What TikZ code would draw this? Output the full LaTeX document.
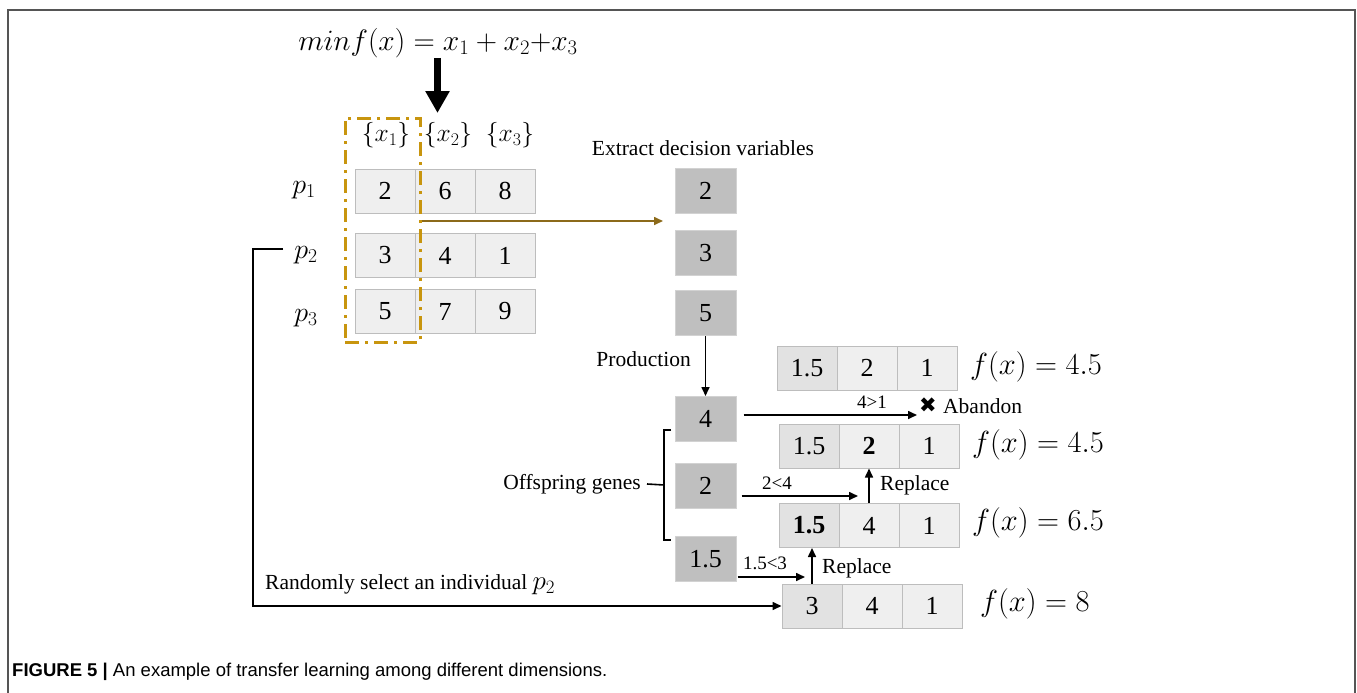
\RequirePackage{fix-cm}
\documentclass[tikz,border=0pt]{standalone}
\usepackage{fontspec}
\setmainfont{Liberation Serif}
\newfontfamily\capfont{Liberation Sans}
\newfontfamily\symfont{DejaVu Sans}
\usetikzlibrary{arrows.meta,calc}
\definecolor{cellfill}{HTML}{EFEFEF}
\definecolor{cellfillA}{HTML}{E2E2E2}
\definecolor{cellline}{HTML}{BDBDBD}
\definecolor{gfill}{HTML}{BFBFBF}
\definecolor{gline}{HTML}{D2D2D2}
\definecolor{gold}{HTML}{C8950E}
\definecolor{olive}{HTML}{8C6A1A}
\definecolor{frame}{HTML}{555555}
\begin{document}
\begin{tikzpicture}[x=1pt,y=-1pt,
  cell/.style={draw=cellline,line width=1pt,fill=cellfill,minimum width=60pt,minimum height=44pt,inner sep=0pt,font=\fontsize{26}{30}\selectfont},
  cellA/.style={cell,fill=cellfillA},
  gbox/.style={draw=gline,line width=1pt,fill=gfill,minimum width=61pt,minimum height=45pt,inner sep=0pt,font=\fontsize{26}{30}\selectfont},
  lbl/.style={inner sep=0pt,font=\fontsize{21.5}{25}\selectfont},
  smalllbl/.style={inner sep=0pt,font=\fontsize{19}{22}\selectfont},
  mathlbl/.style={inner sep=0pt,font=\fontsize{30.5}{34}\selectfont},
  arr/.style={line width=1.6pt,-{Triangle[length=9pt,width=8pt]}},
  plain/.style={line width=1.6pt},
]
\useasboundingbox (0,0) rectangle (1357,693);
% frame
\draw[frame,line width=1.5pt] (8,693) -- (8,10) -- (1355,10) -- (1355,693);

% formula and big arrow
\node[mathlbl,font=\fontsize{29.5}{34}\selectfont] (form) at (438,43) {$minf(x)=x_1+x_2{+}x_3$};
\coordinate (bigtop) at (437.5,58);
\coordinate (bigtip) at (437.5,113);
\draw[line width=7pt,-{Triangle[length=22pt,width=23pt]}] (bigtop) -- (bigtip);

% headers
\node[mathlbl,font=\fontsize{25.5}{30}\selectfont] (h1) at (386,135) {$\{x_1\}$};
\node[mathlbl,font=\fontsize{25.5}{30}\selectfont] (h2) at (448,135) {$\{x_2\}$};
\node[mathlbl,font=\fontsize{25.5}{30}\selectfont] (h3) at (510,135) {$\{x_3\}$};

% row labels
\node[mathlbl,font=\fontsize{28}{32}\selectfont] (p1) at (304,190) {$p_1$};
\node[mathlbl,font=\fontsize{28}{32}\selectfont] (p2) at (306,255) {$p_2$};
\node[mathlbl,font=\fontsize{28}{32}\selectfont] (p3) at (306,318) {$p_3$};

% population matrix
\node[cell] (a11) at (385,191) {2};
\node[cell] (a12) at (445,191) {6};
\node[cell] (a13) at (505,191) {8};
\node[cell] (a21) at (385,255.5) {3};
\node[cell] (a22) at (445,255.5) {4};
\node[cell] (a23) at (505,255.5) {1};
\node[cell] (a31) at (385,311.5) {5};
\node[cell] (a32) at (445,311.5) {7};
\node[cell] (a33) at (505,311.5) {9};

% selection box
\node[draw=gold,line width=3pt,dash pattern=on 14pt off 6pt on 3pt off 6pt,minimum width=75pt,minimum height=224pt,inner sep=0pt] (sel) at (382.5,230) {};

% extracted variables
\node[lbl] (extract) at (703,148) {Extract decision variables};
\node[gbox] (e1) at (705.5,190.5) {2};
\node[gbox] (e2) at (705.5,253) {3};
\node[gbox] (e3) at (705.5,313) {5};
\coordinate (exttip) at (663,221);
\draw[olive,line width=1.6pt,-{Triangle[length=9pt,width=8pt]}] (sel.east |- exttip) -- (exttip);

% production
\node[gbox] (o1) at (705.5,419) {4};
\node[gbox] (o2) at (705.5,485.5) {2};
\node[gbox] (o3) at (705.5,559) {1.5};
\draw[arr] (e3.south) -- (o1.north);
\node[lbl,anchor=east] (prod) at (691,359) {Production};

% bracket
\coordinate (bt) at (671,430);
\coordinate (bb) at (671,540);
\coordinate (bm) at (664,485);
\draw[plain] (bt) -- (bt -| bm) -- (bb -| bm) -- (bb);
\node[lbl,anchor=east] (offs) at (641,484) {Offspring genes};
\draw[plain] (offs.east) ++(6,0) -- (bm);

% candidate rows
\node[cellA] (r1a) at (807,368) {1.5};
\node[cell]  (r1b) at (867,368) {2};
\node[cell]  (r1c) at (927,368) {1};
\node[mathlbl,anchor=west] (f1) at (970,367) {$f(x)=4.5$};

\node[cellA] (r2a) at (809,446) {1.5};
\node[cell]  (r2b) at (869,446) {\textbf{2}};
\node[cell]  (r2c) at (929,446) {1};
\node[mathlbl,anchor=west] (f2) at (972,445) {$f(x)=4.5$};

\node[cellA] (r3a) at (809,525.5) {\textbf{1.5}};
\node[cell]  (r3b) at (869,525.5) {4};
\node[cell]  (r3c) at (929,525.5) {1};
\node[mathlbl,anchor=west] (f3) at (972,523) {$f(x)=6.5$};

\node[cellA] (r4a) at (812,606) {3};
\node[cell]  (r4b) at (872,606) {4};
\node[cell]  (r4c) at (932,606) {1};
\node[mathlbl,anchor=west] (f4) at (980,604) {$f(x)=8$};

% abandon
\coordinate (abtip) at (917,415);
\draw[arr] ([xshift=7pt,yshift=4pt]o1.east) -- (abtip);
\node[smalllbl] (gt) at (872,402) {4>1};
\node[inner sep=0pt,font=\symfont\fontsize{21}{24}\selectfont] (xmark) at (928,405) {✖};
\node[lbl,anchor=west] (aband) at (943,406) {Abandon};

% replace 2
\coordinate (t2) at (858,496);
\draw[arr] ([xshift=5pt,yshift=-10.5pt]o2.east) -- (t2);
\node[smalllbl] (lt1) at (777,483) {2<4};
\draw[arr] (r3b.north) -- (r3b.north |- r2b.south);
\node[lbl,anchor=west] (rep1) at (880,485) {Replace};

% replace 1.5
\coordinate (t3) at (805,577);
\draw[arr] ([xshift=1pt,yshift=-18pt]o3.east) -- (t3);
\node[smalllbl] (lt2) at (765,563) {1.5<3};
\draw[arr] (r4a.north) -- (r4a.north |- r3a.south);
\node[lbl,anchor=west] (rep2) at (822,568) {Replace};

% random selection
\coordinate (c1) at (283,249);
\coordinate (c2) at (253,249);
\coordinate (c3) at (253,606);
\draw[arr] (c1) -- (c2) -- (c3) -- (r4a.west);
\node[lbl,anchor=west] (rand) at (265,585) {Randomly select an individual \fontsize{27}{30}\selectfont$p_2$};

% caption
\node[inner sep=0pt,anchor=west,font=\capfont\fontsize{18.5}{21}\selectfont] (cap) at (12,672) {\textbf{FIGURE 5 |} An example of transfer learning among different dimensions.};
\end{tikzpicture}
\end{document}
